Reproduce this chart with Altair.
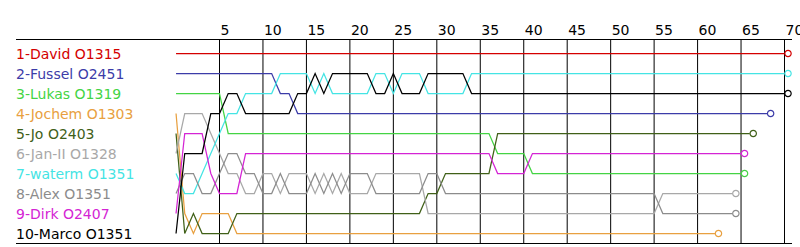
import altair as alt
import pandas as pd

# ---------------- data ----------------
names = ["1-David O1315", "2-Fussel O2451", "3-Lukas O1319", "4-Jochem O1303",
         "5-Jo O2403", "6-Jan-II O1328", "7-waterm O1351", "8-Alex O1351",
         "9-Dirk O2407", "10-Marco O1351"]
colors = ["#d40000", "#3c3ca8", "#44d444", "#e8a040", "#406018",
          "#a8a8a8", "#44e4e4", "#8c8c8c", "#d424d4", "#000000"]
start_pos = [1, 2, 3, 4, 5, 6, 7, 8, 9, 10]

# key points (lap, position) of each driver; straight segments in between
laps_david = [0, 70]
pos_david = [1, 1]
laps_fussel = [0, 11, 12, 13, 14, 68]
pos_fussel = [2, 2, 3, 3, 4, 4]
laps_lukas = [0, 5, 6, 36, 37, 40, 41, 65]
pos_lukas = [3, 3, 5, 5, 6, 6, 7, 7]
laps_jochem = [0, 1, 2, 3, 6, 7, 62]
pos_jochem = [4, 9, 10, 9, 9, 10, 10]
laps_jo = [0, 1, 2, 3, 6, 7, 28, 29, 30, 31, 36, 37, 66]
pos_jo = [5, 10, 9, 10, 10, 9, 9, 8, 8, 7, 7, 5, 5]
laps_janii = [0, 1, 3, 4, 5, 6, 7, 8, 9, 10, 11, 12, 13, 15, 16, 17, 18, 19, 20,
              22, 23, 28, 29, 55, 56, 64]
pos_janii = [6, 4, 4, 5, 6, 7, 7, 8, 8, 7, 7, 8, 7, 7, 8, 7, 8, 7, 8,
             8, 7, 7, 9, 9, 8, 8]
laps_waterm = [0, 1, 2, 3, 4, 5, 6, 7, 8, 11, 12, 15, 16, 17, 18, 22, 23, 24,
               25, 26, 28, 29, 33, 34, 70]
pos_waterm = [7, 8, 8, 7, 6, 5, 4, 4, 3, 3, 2, 2, 3, 2, 3, 3, 2, 2,
              3, 2, 2, 3, 3, 2, 2]
laps_alex = [0, 1, 2, 3, 4, 5, 6, 7, 8, 9, 10, 11, 12, 13, 15, 16, 17, 18, 19,
             20, 22, 23, 28, 29, 30, 31, 55, 56, 64]
pos_alex = [8, 7, 7, 8, 8, 7, 6, 6, 7, 7, 8, 8, 7, 8, 8, 7, 8, 7, 8,
            7, 7, 8, 8, 7, 7, 8, 8, 9, 9]
laps_dirk = [0, 1, 3, 4, 5, 7, 8, 36, 37, 40, 41, 65]
pos_dirk = [9, 5, 5, 7, 8, 8, 6, 6, 7, 7, 6, 6]
laps_marco = [0, 1, 3, 4, 5, 6, 7, 8, 13, 14, 15, 16, 17, 18, 22, 23, 24, 25,
              26, 28, 29, 33, 34, 70]
pos_marco = [10, 6, 6, 4, 4, 3, 3, 4, 4, 3, 3, 2, 3, 2, 2, 3, 3, 2,
             3, 3, 2, 2, 3, 3]

tick_laps = [5, 10, 15, 20, 25, 30, 35, 40, 45, 50, 55, 60, 65, 70]

series = [
    (laps_david, pos_david), (laps_fussel, pos_fussel), (laps_lukas, pos_lukas),
    (laps_jochem, pos_jochem), (laps_jo, pos_jo), (laps_janii, pos_janii),
    (laps_waterm, pos_waterm), (laps_alex, pos_alex), (laps_dirk, pos_dirk),
    (laps_marco, pos_marco),
]

rows = []
ends = []
for name, (lp, ps) in zip(names, series):
    for l, p in zip(lp, ps):
        rows.append({"name": name, "lap": l, "pos": p})
    ends.append({"name": name, "lap": lp[-1], "pos": ps[-1]})
df = pd.DataFrame(rows)
df_end = pd.DataFrame(ends)
df_names = pd.DataFrame({"name": names, "pos": start_pos})
df_ticks = pd.DataFrame({"lap": tick_laps, "label": [str(t) for t in tick_laps]})
df_frame = pd.DataFrame({"y": [0.5, 204.5]})

W, H = 776, 204
FONT = "DejaVu Sans"

xs = alt.Scale(domain=[-18.412, 70.862], nice=False, zero=False)
ys = alt.Scale(domain=[0.275, 10.475], reverse=True, nice=False, zero=False)
cs = alt.Scale(domain=names, range=colors)

grid = alt.Chart(df_ticks).mark_rule(color="black", strokeWidth=1).encode(
    x=alt.X("lap:Q", scale=xs, axis=None),
    y=alt.value(0.5), y2=alt.value(204.5))

frame = alt.Chart(df_frame).mark_rule(color="black", strokeWidth=1).encode(
    x=alt.value(0), x2=alt.value(W), y=alt.Y("y:Q", scale=None))

tick_text = alt.Chart(df_ticks).mark_text(
    align="left", baseline="alphabetic", dx=1, font=FONT, fontSize=14, color="black"
).encode(x=alt.X("lap:Q", scale=xs, axis=None), y=alt.value(-4.5), text="label:N")

lines = alt.Chart(df).mark_line(strokeWidth=1.25).encode(
    x=alt.X("lap:Q", scale=xs, axis=None),
    y=alt.Y("pos:Q", scale=ys, axis=None),
    color=alt.Color("name:N", scale=cs, legend=None),
    order=alt.Order("lap:Q"),
    detail="name:N")

circles = alt.Chart(df_end).mark_point(
    shape="circle", filled=False, size=40, strokeWidth=1.2, opacity=1, xOffset=3.5
).encode(
    x=alt.X("lap:Q", scale=xs, axis=None),
    y=alt.Y("pos:Q", scale=ys, axis=None),
    color=alt.Color("name:N", scale=cs, legend=None))

labels = alt.Chart(df_names).mark_text(
    align="left", baseline="alphabetic", dy=5, font=FONT, fontSize=14
).encode(
    x=alt.value(0),
    y=alt.Y("pos:Q", scale=ys, axis=None),
    text="name:N",
    color=alt.Color("name:N", scale=cs, legend=None))

chart = alt.layer(grid, frame, tick_text, lines, circles, labels).properties(
    width=W, height=H,
    padding={"left": 16, "top": 39, "right": 8, "bottom": 4},
    autosize=alt.AutoSizeParams(type="none"),
    background="white",
).configure_view(stroke=None)

chart.save("out.html", embed_options={"renderer": "svg", "actions": False})
